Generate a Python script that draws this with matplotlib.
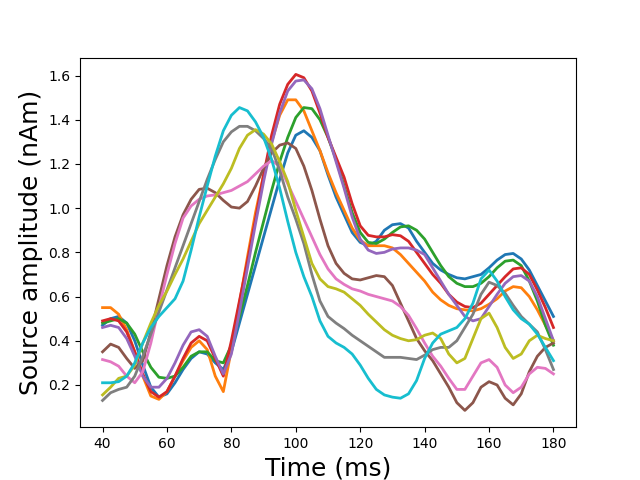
import matplotlib
matplotlib.use("Agg")
import matplotlib.pyplot as plt
import numpy as np

# time axis (ms), sampled every 2.5 ms
times = np.arange(40, 180.1, 2.5)

blue = [0.47, 0.50, 0.51, 0.48, 0.40, 0.29, 0.19, 0.145, 0.16, 0.21, 0.27, 0.32, 0.35, 0.34, 0.30, 0.27,
        0.35, 0.48, 0.61, 0.74, 0.87, 1.00, 1.13, 1.25, 1.33, 1.35, 1.32, 1.26, 1.15, 1.05, 0.97, 0.89,
        0.845, 0.83, 0.85, 0.90, 0.925, 0.93, 0.91, 0.85, 0.80, 0.75, 0.72, 0.70, 0.685, 0.68, 0.69, 0.70,
        0.73, 0.765, 0.79, 0.795, 0.77, 0.72, 0.65, 0.58, 0.51]
orange = [0.55, 0.55, 0.52, 0.45, 0.35, 0.24, 0.15, 0.135, 0.17, 0.24, 0.31, 0.37, 0.40, 0.36, 0.24, 0.17,
          0.36, 0.57, 0.78, 0.98, 1.15, 1.30, 1.42, 1.49, 1.49, 1.44, 1.35, 1.26, 1.16, 1.07, 0.99, 0.91,
          0.855, 0.83, 0.83, 0.83, 0.82, 0.79, 0.75, 0.71, 0.67, 0.62, 0.585, 0.56, 0.545, 0.54, 0.535, 0.545,
          0.565, 0.59, 0.625, 0.645, 0.64, 0.60, 0.54, 0.47, 0.40]
green = [0.48, 0.49, 0.50, 0.48, 0.43, 0.35, 0.28, 0.235, 0.23, 0.24, 0.28, 0.33, 0.35, 0.35, 0.31, 0.30,
         0.38, 0.51, 0.65, 0.80, 0.94, 1.08, 1.21, 1.32, 1.41, 1.455, 1.45, 1.40, 1.32, 1.22, 1.10, 0.98,
         0.89, 0.845, 0.84, 0.86, 0.89, 0.915, 0.92, 0.90, 0.86, 0.80, 0.74, 0.69, 0.66, 0.645, 0.645, 0.66,
         0.69, 0.73, 0.76, 0.765, 0.74, 0.67, 0.58, 0.47, 0.38]
red = [0.49, 0.50, 0.49, 0.44, 0.35, 0.25, 0.17, 0.145, 0.17, 0.24, 0.32, 0.39, 0.42, 0.40, 0.32, 0.24,
       0.40, 0.58, 0.76, 0.95, 1.15, 1.33, 1.47, 1.56, 1.605, 1.59, 1.53, 1.43, 1.32, 1.23, 1.14, 1.02,
       0.92, 0.877, 0.87, 0.87, 0.88, 0.875, 0.85, 0.80, 0.75, 0.70, 0.66, 0.61, 0.575, 0.555, 0.55, 0.57,
       0.61, 0.65, 0.69, 0.725, 0.73, 0.70, 0.63, 0.55, 0.46]
purple = [0.46, 0.47, 0.46, 0.41, 0.33, 0.24, 0.19, 0.19, 0.23, 0.30, 0.38, 0.44, 0.45, 0.42, 0.33, 0.25,
          0.34, 0.53, 0.73, 0.93, 1.12, 1.29, 1.43, 1.53, 1.575, 1.58, 1.54, 1.45, 1.33, 1.21, 1.09, 0.96,
          0.86, 0.81, 0.795, 0.80, 0.815, 0.82, 0.82, 0.81, 0.79, 0.73, 0.67, 0.61, 0.56, 0.51, 0.49, 0.50,
          0.555, 0.61, 0.66, 0.69, 0.695, 0.67, 0.60, 0.50, 0.40]
brown = [0.35, 0.385, 0.37, 0.32, 0.275, 0.31, 0.44, 0.59, 0.74, 0.87, 0.97, 1.04, 1.085, 1.09, 1.07, 1.035,
         1.005, 1.00, 1.03, 1.10, 1.18, 1.25, 1.285, 1.295, 1.27, 1.19, 1.08, 0.95, 0.83, 0.75, 0.705, 0.68,
         0.675, 0.685, 0.695, 0.69, 0.65, 0.57, 0.49, 0.41, 0.355, 0.31, 0.25, 0.19, 0.12, 0.085, 0.12, 0.19,
         0.215, 0.20, 0.14, 0.11, 0.16, 0.26, 0.33, 0.37, 0.39]
pink = [0.315, 0.305, 0.285, 0.24, 0.21, 0.26, 0.39, 0.55, 0.70, 0.84, 0.955, 1.01, 1.04, 1.055, 1.06, 1.07,
        1.08, 1.10, 1.12, 1.155, 1.19, 1.215, 1.19, 1.11, 1.03, 0.95, 0.87, 0.79, 0.725, 0.68, 0.655, 0.635,
        0.625, 0.61, 0.60, 0.59, 0.58, 0.555, 0.515, 0.455, 0.39, 0.33, 0.285, 0.23, 0.18, 0.18, 0.24, 0.30,
        0.315, 0.28, 0.20, 0.165, 0.19, 0.25, 0.28, 0.275, 0.25]
gray = [0.13, 0.165, 0.18, 0.19, 0.24, 0.33, 0.43, 0.53, 0.63, 0.73, 0.83, 0.93, 1.03, 1.13, 1.22, 1.30,
        1.345, 1.37, 1.37, 1.35, 1.315, 1.27, 1.17, 1.05, 0.95, 0.84, 0.70, 0.58, 0.51, 0.48, 0.455, 0.425,
        0.40, 0.375, 0.35, 0.325, 0.325, 0.325, 0.32, 0.315, 0.335, 0.36, 0.37, 0.37, 0.40, 0.46, 0.52, 0.61,
        0.665, 0.65, 0.615, 0.56, 0.51, 0.475, 0.44, 0.36, 0.27]
olive = [0.155, 0.19, 0.23, 0.24, 0.29, 0.39, 0.48, 0.56, 0.625, 0.70, 0.77, 0.85, 0.93, 0.99, 1.05, 1.11,
         1.18, 1.27, 1.33, 1.355, 1.335, 1.29, 1.21, 1.12, 0.99, 0.87, 0.75, 0.68, 0.645, 0.635, 0.62, 0.59,
         0.56, 0.52, 0.485, 0.45, 0.425, 0.41, 0.40, 0.405, 0.425, 0.435, 0.41, 0.34, 0.30, 0.32, 0.41, 0.50,
         0.525, 0.46, 0.37, 0.32, 0.34, 0.40, 0.425, 0.41, 0.40]
cyan = [0.21, 0.21, 0.215, 0.24, 0.30, 0.39, 0.46, 0.51, 0.55, 0.59, 0.67, 0.81, 0.96, 1.10, 1.235, 1.35,
        1.42, 1.455, 1.44, 1.39, 1.32, 1.22, 1.09, 0.94, 0.80, 0.69, 0.60, 0.49, 0.42, 0.39, 0.37, 0.34,
        0.29, 0.23, 0.18, 0.155, 0.145, 0.14, 0.16, 0.22, 0.32, 0.39, 0.43, 0.445, 0.46, 0.50, 0.57, 0.68,
        0.72, 0.67, 0.60, 0.54, 0.50, 0.475, 0.43, 0.37, 0.31]

series = [blue, orange, green, red, purple, brown, pink, gray, olive, cyan]

plt.figure(figsize=(6.4, 4.8), dpi=100)
for s in series:
    plt.plot(times, s, linewidth=2)

plt.xlabel("Time (ms)", fontsize=18)
plt.ylabel("Source amplitude (nAm)", fontsize=18)
plt.savefig("out.png")
